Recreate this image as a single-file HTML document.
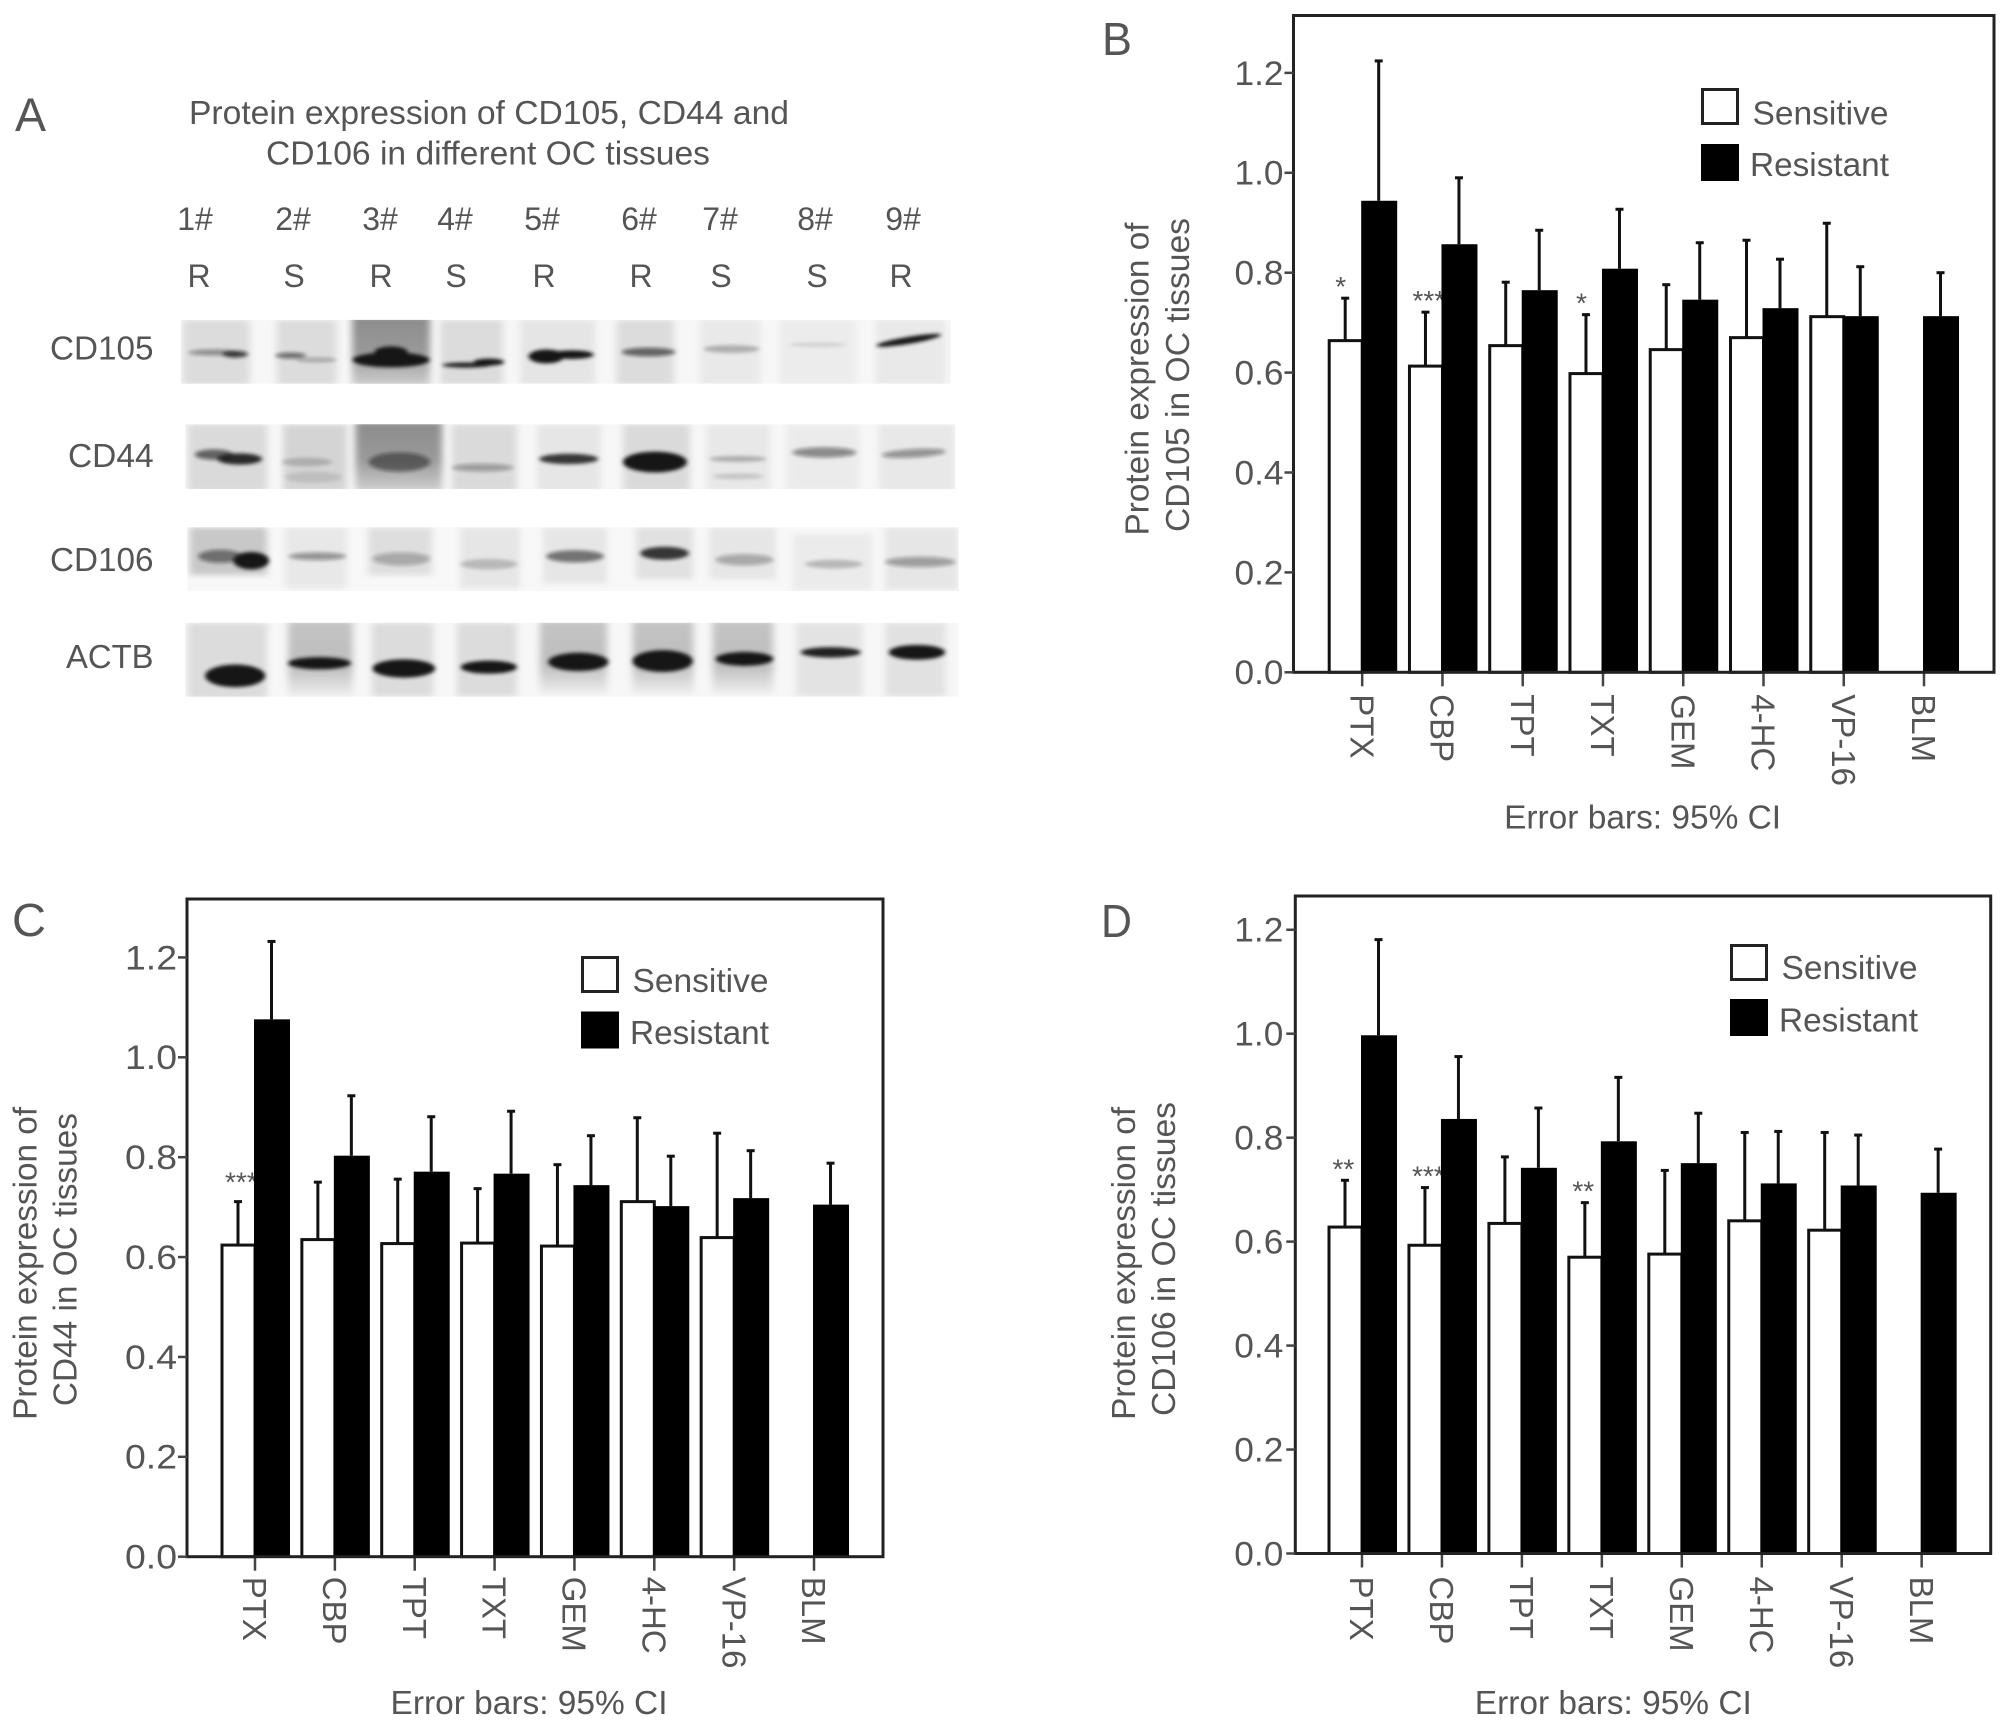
<!DOCTYPE html>
<html><head><meta charset="utf-8"><title>Protein expression of CD105, CD44 and CD106</title>
<style>
html,body{margin:0;padding:0;background:#fff}
svg{display:block}
text{font-family:"Liberation Sans",sans-serif;fill:#555}
</style></head>
<body>
<svg id="fig" xmlns="http://www.w3.org/2000/svg" width="2008" height="1727" viewBox="0 0 2008 1727">
<defs>
<filter id="blurBand" x="-30%" y="-60%" width="160%" height="220%"><feGaussianBlur stdDeviation="3.5 4.5"/></filter>
<filter id="blurLane" x="-30%" y="-30%" width="160%" height="160%"><feGaussianBlur stdDeviation="6 7"/></filter>
<clipPath id="clip105"><rect x="283" y="598" width="1205" height="147"/></clipPath>
<clipPath id="clip44"><rect x="290" y="838" width="1205" height="149"/></clipPath>
<clipPath id="clip106"><rect x="293" y="1075" width="1207" height="147"/></clipPath>
<clipPath id="clipActb"><rect x="290" y="1295" width="1210" height="170"/></clipPath>
<linearGradient id="smear3" x1="0" y1="0" x2="0" y2="1"><stop offset="0" stop-color="#8c8c8c"/><stop offset="0.55" stop-color="#9a9a9a"/><stop offset="1" stop-color="#cfcfcf"/></linearGradient>
<linearGradient id="smearTop" x1="0" y1="0" x2="0" y2="1"><stop offset="0" stop-color="#c4c4c4"/><stop offset="0.6" stop-color="#bdbdbd"/><stop offset="1" stop-color="#f0f0f0"/></linearGradient>
</defs>
<rect width="2008" height="1727" fill="#fff"/>

<g>
<text x="15" y="131" font-size="47" textLength="31" lengthAdjust="spacingAndGlyphs">A</text>
<text x="189" y="124" font-size="33" textLength="600" lengthAdjust="spacingAndGlyphs">Protein expression of CD105, CD44 and</text>
<text x="266" y="164.6" font-size="33" textLength="444" lengthAdjust="spacingAndGlyphs">CD106 in different OC tissues</text>
<g font-size="32" text-anchor="middle">
<text x="195" y="230">1#</text><text x="293" y="230">2#</text><text x="380" y="230">3#</text><text x="455" y="230">4#</text><text x="542" y="230">5#</text><text x="639" y="230">6#</text><text x="720" y="230">7#</text><text x="815" y="230">8#</text><text x="903" y="230">9#</text>
</g>
<g font-size="32" text-anchor="middle">
<text x="199" y="287">R</text><text x="294" y="287">S</text><text x="381" y="287">R</text><text x="456" y="287">S</text><text x="544" y="287">R</text><text x="641" y="287">R</text><text x="721" y="287">S</text><text x="817" y="287">S</text><text x="901" y="287">R</text>
</g>
<g font-size="33">
<text x="50" y="359.5" textLength="103.5" lengthAdjust="spacingAndGlyphs">CD105</text>
<text x="68" y="467" textLength="85.6" lengthAdjust="spacingAndGlyphs">CD44</text>
<text x="50" y="571" textLength="103.5" lengthAdjust="spacingAndGlyphs">CD106</text>
<text x="66" y="668" textLength="87.5" lengthAdjust="spacingAndGlyphs">ACTB</text>
</g>
<g transform="translate(0,60) scale(0.639,0.4346)">
<g clip-path="url(#clip105)">
<rect x="283" y="598" width="1205" height="147" fill="#f7f7f7"/>
<g filter="url(#blurLane)" fill="#dcdcdc">
<rect x="286" y="598" width="105" height="150"/><rect x="433" y="598" width="94" height="150"/><rect x="551" y="590" width="122" height="160" fill="url(#smear3)"/><rect x="689" y="598" width="98" height="150"/><rect x="814" y="598" width="118" height="150" opacity=".65"/><rect x="965" y="598" width="90" height="150"/><rect x="1095" y="598" width="95" height="150" opacity=".5"/><rect x="1220" y="598" width="120" height="150" opacity=".4"/><rect x="1370" y="598" width="110" height="150" opacity=".5"/>
</g>
<g filter="url(#blurBand)" fill="#141414">
<ellipse cx="335" cy="673" rx="40" ry="7" opacity=".4"/><ellipse cx="368" cy="677" rx="20" ry="8" opacity=".75"/>
<ellipse cx="455" cy="680" rx="24" ry="7" opacity=".55"/><ellipse cx="495" cy="690" rx="32" ry="5" opacity=".3"/>
<ellipse cx="612" cy="690" rx="60" ry="17"/><ellipse cx="612" cy="672" rx="26" ry="13"/>
<ellipse cx="730" cy="702" rx="38" ry="6" opacity=".95"/><ellipse cx="765" cy="695" rx="24" ry="8"/>
<ellipse cx="855" cy="682" rx="28" ry="16"/><ellipse cx="895" cy="678" rx="34" ry="10"/>
<ellipse cx="1015" cy="672" rx="42" ry="10" opacity=".6"/>
<ellipse cx="1145" cy="665" rx="44" ry="9" opacity=".25"/>
<ellipse cx="1280" cy="655" rx="45" ry="5" opacity=".12"/>
<ellipse cx="1422" cy="645" rx="52" ry="8" transform="rotate(-14 1422 645)"/>
</g></g>
<g clip-path="url(#clip44)">
<rect x="290" y="838" width="1205" height="149" fill="#f7f7f7"/>
<g filter="url(#blurLane)" fill="#dadada">
<rect x="294" y="838" width="124" height="155"/><rect x="443" y="838" width="100" height="155" fill="#d4d4d4"/><rect x="556" y="832" width="136" height="160" fill="url(#smear3)"/><rect x="707" y="838" width="102" height="155"/><rect x="840" y="838" width="100" height="155" opacity=".6"/><rect x="975" y="838" width="105" height="155"/><rect x="1105" y="838" width="100" height="155" opacity=".5"/><rect x="1230" y="838" width="115" height="155" opacity=".4"/><rect x="1375" y="838" width="120" height="155" opacity=".5"/>
</g>
<g filter="url(#blurBand)" fill="#141414">
<ellipse cx="335" cy="908" rx="30" ry="12" opacity=".6"/><ellipse cx="375" cy="918" rx="35" ry="13" opacity=".9"/>
<ellipse cx="480" cy="925" rx="40" ry="10" opacity=".18"/><ellipse cx="490" cy="960" rx="45" ry="13" opacity=".1"/>
<ellipse cx="625" cy="925" rx="48" ry="22" opacity=".5"/>
<ellipse cx="755" cy="938" rx="48" ry="9" opacity=".32"/>
<ellipse cx="890" cy="918" rx="46" ry="12" opacity=".85"/>
<ellipse cx="1025" cy="925" rx="50" ry="24"/>
<ellipse cx="1155" cy="918" rx="45" ry="7" opacity=".25"/><ellipse cx="1155" cy="958" rx="40" ry="7" opacity=".15"/>
<ellipse cx="1290" cy="903" rx="50" ry="12" opacity=".45"/>
<ellipse cx="1430" cy="905" rx="50" ry="10" opacity=".4" transform="rotate(-5 1430 905)"/>
</g></g>
<g clip-path="url(#clip106)">
<rect x="293" y="1075" width="1207" height="147" fill="#f8f8f8"/>
<g filter="url(#blurLane)" fill="#dedede">
<rect x="297" y="1075" width="121" height="110" fill="#c8c8c8"/><rect x="446" y="1075" width="97" height="140" opacity=".6"/><rect x="576" y="1075" width="100" height="110"/><rect x="720" y="1075" width="94" height="140" opacity=".7"/><rect x="850" y="1075" width="100" height="130" opacity=".7"/><rect x="995" y="1075" width="90" height="120" opacity=".9"/><rect x="1110" y="1075" width="105" height="120" opacity=".7"/><rect x="1240" y="1090" width="125" height="130" opacity=".5"/><rect x="1385" y="1075" width="115" height="145" opacity=".7"/>
</g>
<g filter="url(#blurBand)" fill="#141414">
<ellipse cx="345" cy="1142" rx="35" ry="15" opacity=".5"/><ellipse cx="393" cy="1152" rx="28" ry="20"/>
<ellipse cx="497" cy="1142" rx="45" ry="9" opacity=".4"/>
<ellipse cx="628" cy="1148" rx="45" ry="15" opacity=".28"/>
<ellipse cx="765" cy="1160" rx="45" ry="12" opacity=".2"/>
<ellipse cx="900" cy="1142" rx="45" ry="14" opacity=".55"/>
<ellipse cx="1040" cy="1135" rx="38" ry="15" opacity=".85"/>
<ellipse cx="1165" cy="1150" rx="45" ry="13" opacity=".3"/>
<ellipse cx="1305" cy="1160" rx="45" ry="10" opacity=".22"/>
<ellipse cx="1440" cy="1155" rx="55" ry="12" opacity=".35"/>
</g></g>
<g clip-path="url(#clipActb)">
<rect x="290" y="1295" width="1210" height="170" fill="#f7f7f7"/>
<g filter="url(#blurLane)" fill="#dcdcdc">
<rect x="294" y="1295" width="124" height="175"/><rect x="451" y="1290" width="101" height="175" fill="url(#smearTop)"/><rect x="582" y="1295" width="96" height="170"/><rect x="715" y="1295" width="94" height="170"/><rect x="845" y="1290" width="105" height="170" fill="url(#smearTop)"/><rect x="990" y="1290" width="95" height="170" fill="url(#smearTop)"/><rect x="1115" y="1290" width="95" height="170" fill="url(#smearTop)"/><rect x="1245" y="1295" width="105" height="170" opacity=".7"/><rect x="1385" y="1295" width="95" height="170" opacity=".8"/>
</g>
<g filter="url(#blurBand)" fill="#161616">
<ellipse cx="368" cy="1417" rx="47" ry="26"/>
<ellipse cx="500" cy="1388" rx="49" ry="14"/>
<ellipse cx="632" cy="1400" rx="49" ry="21"/>
<ellipse cx="765" cy="1397" rx="44" ry="15"/>
<ellipse cx="905" cy="1385" rx="47" ry="21"/>
<ellipse cx="1037" cy="1383" rx="47" ry="25"/>
<ellipse cx="1165" cy="1378" rx="45" ry="16"/>
<ellipse cx="1300" cy="1363" rx="47" ry="12" opacity=".95"/>
<ellipse cx="1435" cy="1363" rx="44" ry="17"/>
</g></g>
</g>
</g>
<g id="charts"></g>
</svg>
<script>
// Shared categories and axis ticks
var categories = ['PTX','CBP','TPT','TXT','GEM','4-HC','VP-16','BLM'];
var yTicks = [0.0,0.2,0.4,0.6,0.8,1.0,1.2];
var yTickLabels = ['0.0','0.2','0.4','0.6','0.8','1.0','1.2'];
var legendLabels = ['Sensitive','Resistant'];
var errorCaption = 'Error bars: 95% CI';

// CD105
var cd105SensitiveMean  = [0.664,0.613,0.654,0.598,0.646,0.670,0.712,null];
var cd105SensitiveUpper = [0.749,0.721,0.781,0.716,0.776,0.865,0.899,null];
var cd105ResistantMean  = [0.944,0.857,0.765,0.808,0.746,0.729,0.713,0.713];
var cd105ResistantUpper = [1.224,0.990,0.885,0.927,0.860,0.827,0.812,0.800];
var cd105Stars = ['*','***','','*','','','',''];
// CD44
var cd44SensitiveMean  = [0.624,0.635,0.627,0.628,0.622,0.711,0.639,null];
var cd44SensitiveUpper = [0.711,0.750,0.756,0.737,0.785,0.879,0.848,null];
var cd44ResistantMean  = [1.076,0.803,0.771,0.767,0.744,0.702,0.718,0.705];
var cd44ResistantUpper = [1.232,0.923,0.881,0.892,0.843,0.802,0.813,0.788];
var cd44Stars = ['***','','','','','','',''];
// CD106
var cd106SensitiveMean  = [0.628,0.593,0.635,0.570,0.576,0.640,0.622,null];
var cd106SensitiveUpper = [0.718,0.704,0.763,0.675,0.737,0.810,0.810,null];
var cd106ResistantMean  = [0.997,0.836,0.742,0.793,0.751,0.712,0.708,0.694];
var cd106ResistantUpper = [1.181,0.956,0.857,0.916,0.847,0.812,0.805,0.778];
var cd106Stars = ['**','***','','**','','','',''];

var NS = 'http://www.w3.org/2000/svg';
function mk(parent, tag, attrs, txt){
  var e = document.createElementNS(NS, tag);
  for (var k in attrs) e.setAttribute(k, attrs[k]);
  if (txt !== undefined) e.textContent = txt;
  parent.appendChild(e);
  return e;
}
function drawChart(c){
  var root = document.getElementById('charts');
  var g = mk(root,'g',{});
  
  
  function yScale(v){ return c.y0 - v * c.pxPerUnit; }
  function xScale(i){ return c.x0 + i * c.step; }

  var pl = mk(g,'text',{x:c.labelX,y:c.labelY,'font-size':46,textLength:c.labelW,lengthAdjust:'spacingAndGlyphs'},c.letter);
  
  

  // y title
  c.titles.forEach(function(t, i){
    var tt = mk(g,'text',{'font-size':33,'text-anchor':'middle',textLength:t.len,lengthAdjust:'spacingAndGlyphs',
      transform:'translate('+t.x+','+t.y+') rotate(-90)',dy:'0.36em'},t.text);
    
    
  });

  // bars
  categories.forEach(function(cat, i){
    var tx = xScale(i);
    var sm = c.sMean[i], su = c.sUpper[i], rm = c.rMean[i], ru = c.rUpper[i];
    if (sm !== null){
      var sc = tx - 17;
      var e1 = mk(g,'line',{x1:sc,x2:sc,y1:yScale(sm),y2:yScale(su),stroke:'#111','stroke-width':3});
      
      
      var cp1 = mk(g,'line',{x1:sc-4,x2:sc+4,y1:yScale(su),y2:yScale(su),stroke:'#111','stroke-width':3});
      
      
      var b1 = mk(g,'rect',{x:tx-33,y:yScale(sm),width:33,height:c.y0-yScale(sm),fill:'#fff',stroke:'#111','stroke-width':3});
      
      
    }
    if (c.stars[i]){
      var n = c.stars[i].length;
      var st = mk(g,'text',{x:tx-33+(3-n)*2.5+(n === 3 ? 3 : 1),y:yScale(su)+1-c.starLift,'font-size':28},c.stars[i]);
      
      
    }
    var rc = tx + 16.5;
    var e2 = mk(g,'line',{x1:rc,x2:rc,y1:yScale(rm),y2:yScale(ru),stroke:'#111','stroke-width':3});
    
    
    var cp2 = mk(g,'line',{x1:rc-4,x2:rc+4,y1:yScale(ru),y2:yScale(ru),stroke:'#111','stroke-width':3});
    
    
    var b2 = mk(g,'rect',{x:tx-1,y:yScale(rm),width:36,height:c.y0-yScale(rm),fill:'#000'});
    
    

    var xt = mk(g,'line',{x1:tx,x2:tx,y1:c.y0,y2:c.y0+14,stroke:'#444','stroke-width':2.5});
    
    
    var xl = mk(g,'text',{'font-size':33,dy:'0.36em',transform:'translate('+tx+','+(c.y0+c.xLabelGap)+') rotate(90)'},cat);
    
    
  });

  // frame
  var fr = mk(g,'rect',{x:c.left,y:c.top,width:c.right-c.left,height:c.y0-c.top,fill:'none',stroke:'#222','stroke-width':3});
  
  

  // y ticks
  yTicks.forEach(function(v, i){
    var yt = mk(g,'line',{x1:c.left-9,x2:c.left,y1:yScale(v),y2:yScale(v),stroke:'#444','stroke-width':2.5});
    
    
    var yl = mk(g,'text',{x:c.left-c.tickGap,y:yScale(v),dy:'0.35em','font-size':34,'text-anchor':'end',textLength:c.tickW,lengthAdjust:'spacingAndGlyphs'},yTickLabels[i]);
    
    
  });

  // legend
  var s1 = mk(g,'rect',{x:c.lg.x+1.5,y:c.lg.y1+1.5,width:35,height:34,fill:'#fff',stroke:'#222','stroke-width':3});
  
  
  var s2 = mk(g,'rect',{x:c.lg.x,y:c.lg.y2,width:38,height:37,fill:'#000'});
  
  
  var l1 = mk(g,'text',{x:c.lg.x+51.5,y:c.lg.t1-1,dy:'0.36em','font-size':33,textLength:136,lengthAdjust:'spacingAndGlyphs'},legendLabels[0]);
  
  
  var l2 = mk(g,'text',{x:c.lg.x+49,y:c.lg.t2-1,dy:'0.36em','font-size':33,textLength:139,lengthAdjust:'spacingAndGlyphs'},legendLabels[1]);
  
  

  var cap = mk(g,'text',{x:c.capX,y:c.capY,dy:'0.36em','font-size':33,'text-anchor':'middle',textLength:277,lengthAdjust:'spacingAndGlyphs'},errorCaption);
  
  
}

drawChart({id:'b',letter:'B',labelX:1102,labelY:55,labelW:30,left:1293.5,right:1994,top:15.5,y0:672.3,pxPerUnit:499.5,x0:1362.2,step:80.26,xLabelGap:22,tickGap:10,tickW:49,starLift:3,
  sMean:cd105SensitiveMean,sUpper:cd105SensitiveUpper,rMean:cd105ResistantMean,rUpper:cd105ResistantUpper,stars:cd105Stars,
  titles:[{x:1136.7,y:379,len:313,text:'Protein expression of'},{x:1177,y:375,len:314,text:'CD105 in OC tissues'}],
  lg:{x:1701,y1:88,y2:144,t1:113.7,t2:165},capX:1642.6,capY:816.7});
drawChart({id:'c',letter:'C',labelX:12,labelY:936,labelW:34,left:187,right:883,top:899,y0:1556.7,pxPerUnit:499.4,x0:255,step:79.86,xLabelGap:20,tickGap:10,tickW:52,starLift:11,
  sMean:cd44SensitiveMean,sUpper:cd44SensitiveUpper,rMean:cd44ResistantMean,rUpper:cd44ResistantUpper,stars:cd44Stars,
  titles:[{x:24.5,y:1263.4,len:313,text:'Protein expression of'},{x:64.5,y:1259.6,len:293,text:'CD44 in OC tissues'}],
  lg:{x:581,y1:956,y2:1011.5,t1:981,t2:1033},capX:529,capY:1702});
drawChart({id:'d',letter:'D',labelX:1101,labelY:937,labelW:31,left:1295.3,right:1990.7,top:896,y0:1553.5,pxPerUnit:519.8,x0:1362,step:79.95,xLabelGap:23,tickGap:12,tickW:49,starLift:3,
  sMean:cd106SensitiveMean,sUpper:cd106SensitiveUpper,rMean:cd106ResistantMean,rUpper:cd106ResistantUpper,stars:cd106Stars,
  titles:[{x:1123,y:1263.4,len:313,text:'Protein expression of'},{x:1163,y:1259,len:314,text:'CD106 in OC tissues'}],
  lg:{x:1730,y1:944,y2:999,t1:968,t2:1020.7},capX:1613.3,capY:1702});
</script>
</body></html>
